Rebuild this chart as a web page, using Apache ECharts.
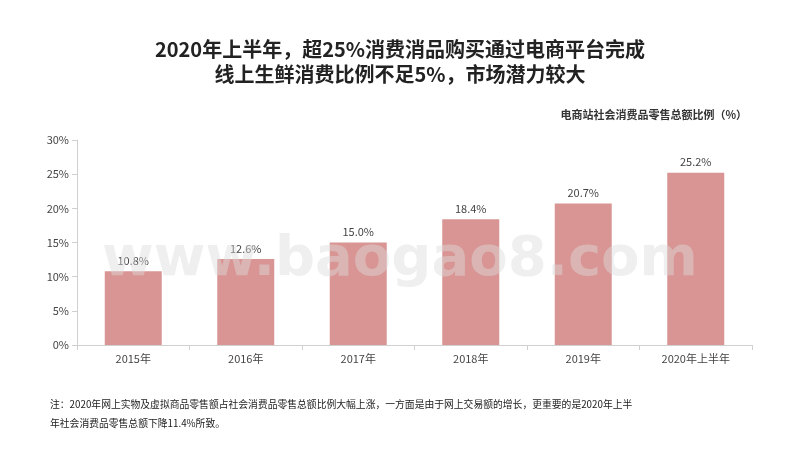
<!DOCTYPE html>
<html>
<head>
<meta charset="utf-8">
<script src="https://cdn.jsdelivr.net/npm/echarts@6/dist/echarts.min.js"></script>
<style>html,body{margin:0;padding:0;background:#fff}#chart{width:800px;height:450px}</style>
</head>
<body>
<div id="chart"></div>
<script>
var years = ['2015年', '2016年', '2017年', '2018年', '2019年', '2020年上半年'];
var ratios = [10.8, 12.6, 15.0, 18.4, 20.7, 25.2];
var yTicks = [0, 5, 10, 15, 20, 25, 30];

var font = '"Noto Sans CJK SC", sans-serif';
var myChart = echarts.init(document.getElementById('chart'));
var option = {
    animation: false,
    textStyle: {fontFamily: font},
    title: [
        {text: '2020年上半年，超25%消费消品购买通过电商平台完成\n线上生鲜消费比例不足5%，市场潜力较大', left: 'center', top: 32,
         textStyle: {fontSize: 20, fontWeight: 'bold', color: '#222', lineHeight: 25, fontFamily: font}},
        {text: '电商站社会消费品零售总额比例（%）', right: 48, top: 104,
         textStyle: {fontSize: 11, fontWeight: 'bold', color: '#333', fontFamily: font}},
        {text: '注：2020年网上实物及虚拟商品零售额占社会消费品零售总额比例大幅上涨，一方面是由于网上交易额的增长，更重要的是2020年上半\n年社会消费品零售总额下降11.4%所致。', left: 45, top: 390,
         textStyle: {fontSize: 9.8, fontWeight: 'normal', color: '#222', lineHeight: 19, fontFamily: font}}
    ],
    graphic: [{type: 'text', left: 'center', top: 232, z: 10,
        style: {text: 'www.baogao8.com', fontSize: 56, fontWeight: 'bold', fill: 'rgba(220,220,220,0.45)', fontFamily: 'DejaVu Sans'}}],
    grid: {left: 77, right: 48, top: 140, bottom: 105},
    xAxis: {
        type: 'category', data: years,
        axisLine: {lineStyle: {color: '#d0d0d0'}},
        axisTick: {show: true, alignWithLabel: false, lineStyle: {color: '#d0d0d0'}},
        axisLabel: {color: '#444', fontSize: 11, margin: 8}
    },
    yAxis: {
        type: 'value', min: 0, max: 30, interval: 5,
        axisLine: {show: true, lineStyle: {color: '#d0d0d0'}},
        axisTick: {show: true, lineStyle: {color: '#d0d0d0'}},
        splitLine: {show: false},
        axisLabel: {color: '#444', fontSize: 11, formatter: '{value}%'}
    },
    series: [{
        type: 'bar', data: ratios, barWidth: 57,
        itemStyle: {color: '#d99594'},
        label: {show: true, position: 'top', color: '#444', fontSize: 11,
            formatter: function(p){ return p.value.toFixed(1) + '%'; }}
    }]
};
myChart.setOption(option);
</script>
</body>
</html>
